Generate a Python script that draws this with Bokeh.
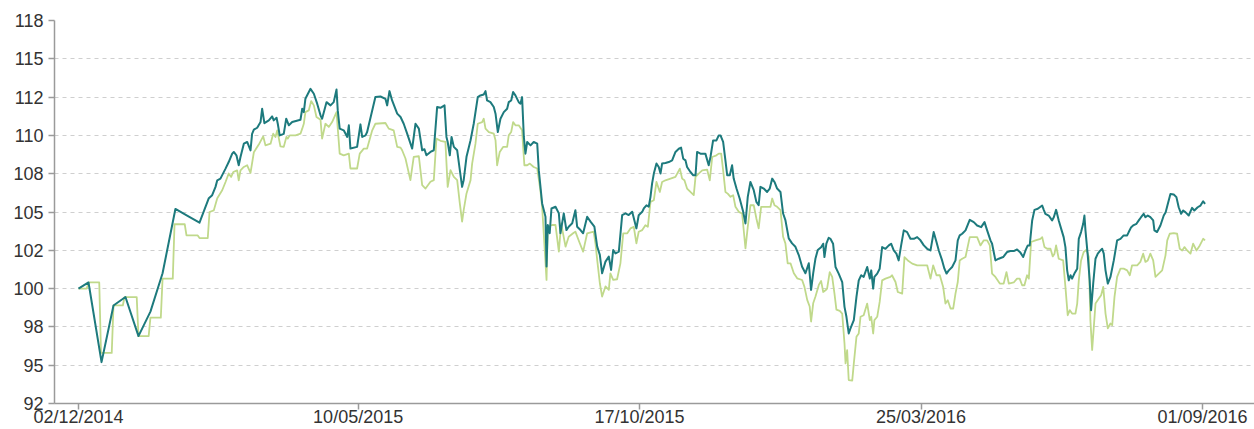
import pandas as pd
from bokeh.plotting import figure
from bokeh.models import FixedTicker, DatetimeTickFormatter, Range1d
from bokeh.embed import file_html
from bokeh.resources import INLINE

start_date = "2014-12-02"

teal_days = [0, 5.7, 13.1, 19.9, 26.7, 34.1, 40.9, 47.8, 55.1, 62.0, 68.8, 74.1, 76.0, 77.9, 78.9, 80.7,
             83.6, 85.4, 87.4, 88.3, 89.8, 91.1, 92.1, 94.0, 95.9, 97.8, 98.7, 99.7, 101.6, 103.5, 104.4,
             105.7, 108.2, 110.1, 111.0, 112.6, 113.3, 114.4, 116.7, 118.1, 119.6, 121.5, 126.2, 127.2,
             128.1, 129.0, 131.9, 133.8, 135.7, 137.6, 138.5, 141.0, 143.3, 145.1, 146.7, 147.4, 148.5,
             150.8, 152.8, 153.7, 154.6, 158.4, 160.3, 161.3, 163.2, 164.1, 168.8, 171.7, 174.5, 175.5,
             176.8, 178.3, 181.2, 183.1, 184.9, 186.9, 189.7, 191.6, 193.5, 195.4, 196.7, 197.8, 200.1,
             202.0, 203.9, 205.8, 208.1, 209.2, 209.9, 211.1, 212.1, 213.4, 215.3, 216.8, 218.1, 219.0,
             220.6, 222.9, 224.7, 227.0, 228.5, 230.4, 231.4, 232.3, 234.2, 236.1, 237.1, 238.4, 239.9,
             241.8, 243.7, 244.6, 246.0, 247.1, 248.4, 250.3, 251.3, 252.2, 253.2, 254.1, 255.1, 257.0,
             258.8, 260.8, 261.7, 263.6, 265.5, 266.1, 266.8, 267.9, 268.9, 271.2, 273.1, 274.0, 275.9,
             277.4, 278.7, 280.7, 282.5, 283.5, 285.4, 286.9, 289.2, 291.1, 293.3, 294.9, 296.4, 297.7,
             299.6, 301.5, 302.8, 304.0, 305.3, 307.2, 309.1, 311.0, 312.8, 314.8, 317.2, 318.5, 320.5,
             321.4, 322.9, 324.2, 325.2, 326.1, 327.1, 328.6, 329.9, 330.9, 331.8, 333.7, 335.6, 337.5,
             339.4, 341.3, 342.6, 343.8, 345.1, 346.0, 347.9, 349.5, 350.8, 351.7, 353.6, 356.4, 358.3,
             359.3, 360.8, 362.7, 364.0, 365.0, 366.5, 367.8, 368.8, 370.3, 371.6, 372.5, 374.1, 375.9,
             377.9, 379.2, 380.5, 382.0, 383.9, 385.4, 386.7, 387.7, 389.6, 391.5, 393.0, 394.4, 395.7,
             397.2, 399.1, 400.6, 401.9, 403.8, 405.7, 407.6, 409.5, 411.4, 413.3, 415.2, 416.5, 417.7,
             419.0, 420.3, 422.2, 423.4, 424.1, 425.2, 426.5, 427.5, 429.0, 430.4, 432.2, 434.2, 435.5,
             436.6, 437.9, 438.9, 440.8, 442.3, 443.6, 445.0, 446.4, 448.4, 449.9, 450.7, 451.8, 452.5,
             454.1, 455.5, 456.9, 458.8, 460.7, 462.0, 463.5, 465.0, 466.3, 467.7, 469.2, 471.1, 473.0,
             474.9, 476.8, 478.7, 480.6, 482.5, 484.4, 486.2, 487.8, 489.1, 491.0, 492.3, 493.5, 494.8,
             496.7, 498.6, 499.9, 501.0, 502.4, 504.3, 506.7, 509.0, 510.9, 513.2, 515.1, 516.6, 518.5,
             519.4, 521.3, 523.2, 525.7, 528.0, 529.8, 531.7, 533.6, 535.5, 537.1, 538.4, 539.7, 540.8,
             542.2, 543.5, 545.4, 547.9, 548.8, 549.7, 551.6, 553.5, 554.5, 555.8, 557.3, 558.7, 560.1,
             561.1, 562.1, 563.0, 564.0, 564.9, 566.2, 567.8, 568.7, 570.0, 571.2, 571.9, 572.5, 573.8,
             574.9, 575.7, 576.9, 578.2, 579.5, 581.0, 582.0, 582.9, 583.9, 585.2, 586.7, 588.6, 590.5,
             592.4, 594.2, 596.2, 597.1, 598.5, 599.6, 601.5, 602.8, 604.1, 605.6, 606.6, 607.9, 609.4,
             611.0, 611.7, 613.2, 615.1, 617.0, 618.1, 619.3, 620.8, 622.7, 624.2, 625.5, 626.9, 628.0,
             629.3, 631.2, 633.1, 634.4, 636.3, 637.9, 639.4, 640.5]

teal_values = [100.0, 100.4, 95.2, 98.9, 99.45, 96.9, 98.5, 101.0, 105.2, 104.75, 104.3, 105.9, 106.1,
               106.64, 107.07, 107.18, 107.83, 108.26, 108.81, 108.92, 108.7, 108.05, 108.59, 109.46,
               109.57, 109.02, 110.1, 110.37, 110.5, 110.87, 111.74, 110.8, 110.98, 111.24, 110.98,
               111.15, 110.76, 110.0, 110.1, 111.09, 110.66, 110.87, 111.02, 111.74, 111.52, 112.39,
               113.04, 112.72, 112.07, 111.31, 111.09, 112.17, 111.96, 112.17, 113.0, 111.63, 110.44,
               110.33, 109.9, 110.66, 109.14, 109.25, 110.72, 109.9, 110.0, 110.22, 112.5, 112.54,
               112.39, 111.96, 112.89, 112.28, 111.42, 111.2, 110.76, 110.1, 109.14, 110.76, 110.44,
               109.03, 109.1, 108.7, 108.92, 109.03, 111.85, 111.8, 111.96, 109.9, 109.57, 108.7,
               109.9, 109.25, 109.03, 107.73, 106.64, 107.08, 108.6, 109.68, 110.76, 112.5, 112.61,
               112.67, 112.89, 112.28, 112.17, 111.85, 111.42, 110.22, 111.09, 111.52, 111.74, 112.17,
               112.28, 112.83, 112.61, 112.17, 112.07, 112.5, 109.9, 108.81, 109.57, 109.35, 109.57,
               109.46, 107.73, 105.56, 104.69, 101.44, 104.15, 103.61, 105.23, 105.34, 104.91, 103.61,
               104.91, 103.82, 104.04, 104.26, 105.12, 104.04, 103.82, 103.61, 104.69, 104.37, 104.04,
               102.74, 102.2, 101.0, 101.76, 102.09, 101.22, 102.52, 102.3, 102.41, 104.8, 104.91,
               104.8, 105.02, 103.93, 104.79, 105.01, 105.23, 105.44, 105.34, 105.99, 106.85, 107.51,
               108.16, 107.94, 107.51, 108.16, 108.2, 108.26, 108.37, 108.92, 109.13, 109.2, 108.48,
               108.37, 107.94, 107.61, 107.4, 107.4, 108.92, 108.81, 108.81, 108.05, 108.59, 109.67,
               109.67, 110.0, 110.0, 109.57, 108.37, 107.4, 107.4, 108.05, 107.18, 106.53, 105.88,
               105.01, 104.25, 105.99, 106.96, 106.42, 105.66, 105.44, 106.64, 106.53, 106.31, 106.53,
               107.18, 106.96, 106.53, 106.31, 104.9, 104.47, 103.28, 102.95, 102.73, 102.19, 101.43,
               101.0, 101.65, 99.91, 101.0, 101.97, 102.52, 102.7, 102.93, 102.06, 102.93, 103.32,
               103.25, 102.93, 101.41, 100.98, 100.43, 98.81, 98.16, 97.07, 97.4, 97.94, 99.46,
               100.54, 100.87, 100.76, 101.41, 100.65, 101.19, 100.0, 100.76, 100.98, 101.3, 102.71,
               102.6, 102.82, 102.93, 102.49, 102.28, 101.84, 102.82, 103.8, 103.69, 103.25, 103.25,
               103.36, 103.15, 102.82, 102.6, 102.49, 103.69, 103.04, 102.49, 101.84, 101.3, 100.98,
               101.19, 101.41, 101.84, 103.15, 103.47, 103.58, 103.8, 104.49, 104.34, 104.12, 104.01,
               104.34, 103.8, 103.15, 102.93, 101.84, 101.95, 102.06, 102.39, 102.45, 102.45, 102.55,
               102.35, 102.06, 102.49, 102.82, 102.82, 104.45, 105.14, 105.21, 105.42, 105.14, 104.88,
               104.77, 104.45, 104.66, 105.14, 104.45, 103.9, 103.36, 102.71, 101.19, 100.54, 100.87,
               100.65, 100.98, 101.3, 103.25, 103.69, 104.23, 104.77, 103.8, 102.17, 100.54, 98.59,
               100.33, 101.95, 102.28, 102.49, 102.6, 102.28, 101.19, 100.33, 100.76, 101.84, 103.15,
               103.25, 103.47, 103.47, 103.69, 104.01, 104.12, 104.23, 104.45, 104.66, 104.88, 104.66,
               104.77, 104.66, 104.45, 103.8, 103.69, 104.12, 104.77, 104.99, 105.53, 106.18, 106.14,
               105.97, 105.31, 104.88, 105.1, 104.99, 104.77, 105.27, 105.1, 105.31, 105.42, 105.7,
               105.53]

green_days = [0, 4.7, 5.7, 11.8, 12.8, 18.9, 19.9, 25.2, 26.2, 33.1, 34.1, 39.9, 40.9, 46.8, 47.8, 53.6,
              54.6, 60.4, 61.4, 67.8, 68.8, 73.5, 74.5, 76.9, 78.9, 81.7, 83.6,
              85.4, 86.8, 88.0, 90.2, 91.1, 92.1, 94.0, 95.9, 97.8, 99.7, 102.5, 105.0, 106.3, 109.2,
              110.7, 112.0, 113.0, 114.8, 116.7, 118.2, 119.0, 120.1, 123.4, 126.2, 127.2, 128.1,
              129.0, 130.9, 132.3, 133.8, 135.3, 137.6, 138.5, 140.4, 142.3, 144.2, 146.7, 148.5,
              150.8, 153.7, 154.6, 158.4, 159.9, 162.2, 164.1, 167.0, 168.8, 174.5, 176.4, 179.2,
              181.2, 183.1, 184.0, 185.9, 188.7, 190.6, 193.5, 195.4, 197.3, 200.1, 202.0, 203.5,
              205.8, 208.6, 209.9, 211.5, 213.4, 215.3, 216.8, 218.1, 219.0, 220.6, 222.9, 223.8,
              225.7, 227.0, 229.5, 230.4, 231.4, 233.3, 236.1, 237.1, 238.0, 239.5, 241.4, 243.7,
              244.6, 246.0, 247.1, 248.4, 250.3, 252.2, 253.5, 255.1, 256.6, 258.8, 260.8, 262.6,
              263.6, 266.1, 266.8, 269.3, 271.2, 273.1, 274.4, 276.9, 278.7, 281.2, 282.5, 285.0,
              286.9, 289.2, 292.9, 293.9, 294.9, 296.4, 297.7, 299.6, 301.5, 302.4, 304.0, 306.2,
              308.1, 309.7, 312.0, 313.8, 315.7, 317.2, 318.5, 320.5, 322.3, 323.7, 325.2, 327.1,
              328.6, 330.5, 331.8, 333.7, 336.6, 339.4, 341.9, 343.2, 344.5, 346.0, 347.9, 349.8,
              350.8, 352.6, 354.6, 357.4, 358.9, 360.3, 362.7, 364.0, 365.4, 366.5, 367.8, 369.1,
              370.7, 372.2, 373.5, 375.4, 377.3, 379.2, 380.5, 382.0, 383.9, 385.4, 386.7, 388.1,
              391.5, 393.4, 394.4, 395.7, 397.2, 399.1, 400.6, 401.9, 403.2, 404.8, 406.7, 408.6,
              411.4, 412.7, 414.3, 415.7, 416.5, 417.7, 419.0, 420.9, 422.2, 423.4, 424.7, 425.6,
              427.1, 428.5, 429.8, 430.9, 432.8, 434.2, 435.5, 436.1, 437.0, 437.9, 439.9, 440.8,
              442.3, 443.6, 444.6, 446.4, 448.4, 449.9, 450.7, 451.8, 452.5, 454.1, 455.5, 456.9,
              458.8, 461.6, 462.5, 464.5, 465.8, 468.3, 469.6, 471.5, 474.0, 476.8, 479.6, 482.5,
              484.4, 485.9, 487.8, 489.7, 491.6, 492.9, 494.2, 495.8, 497.3, 498.6, 499.9, 501.0,
              502.4, 504.3, 506.7, 510.9, 512.8, 514.7, 516.6, 518.1, 519.4, 521.3, 523.8, 526.0,
              527.6, 528.9, 531.7, 533.6, 535.1, 536.5, 537.8, 539.3, 540.3, 541.6, 544.1, 546.9,
              547.9, 549.2, 550.7, 552.6, 553.9, 554.9, 555.8, 557.3, 559.8, 561.1, 562.4, 563.6,
              564.9, 566.8, 567.8, 568.7, 570.0, 571.5, 573.1, 574.4, 575.3, 576.3, 578.2, 580.1,
              581.4, 582.6, 583.9, 585.2, 586.7, 587.7, 589.0, 590.5, 592.4, 594.2, 596.2, 597.7,
              599.0, 601.9, 603.7, 605.3, 606.6, 607.9, 609.4, 611.0, 612.3, 614.2, 616.1, 618.0,
              619.0, 620.4, 622.7, 624.6, 626.1, 627.5, 628.8, 630.3, 632.2, 633.7, 635.6, 637.5,
              639.4, 640.5]

green_values = [100.0, 100.0, 100.4, 100.4, 95.8, 95.8, 98.9, 98.9, 99.45, 99.45, 96.9, 96.9, 98.1, 98.1,
                100.65, 100.65, 104.2, 104.2, 103.47, 103.47, 103.3, 103.3, 105.0, 105.1, 105.9,
                106.42, 106.96, 107.51, 107.29, 107.61, 107.72, 107.07, 107.72, 107.94, 108.05, 107.55,
                108.9, 109.4, 109.94, 109.35, 109.46, 110.11, 109.9, 110.33, 109.29, 109.25, 109.9,
                109.79, 110.0, 110.0, 110.11, 110.44, 110.76, 111.52, 111.63, 112.24, 111.96, 111.2,
                111.02, 109.79, 110.76, 110.55, 110.87, 111.52, 108.81, 108.7, 108.81, 107.84, 107.84,
                108.81, 109.14, 109.14, 110.33, 110.76, 110.81, 110.44, 110.33, 109.25, 109.2, 109.03,
                108.49, 107.08, 108.6, 108.64, 106.75, 106.53, 106.97, 107.08, 109.79, 109.65, 109.57,
                106.64, 107.73, 107.29, 107.08, 105.56, 104.37, 105.12, 106.21, 107.08, 108.16,
                109.46, 110.76, 110.87, 111.09, 110.44, 110.22, 110.11, 109.68, 108.05, 108.92,
                109.25, 109.25, 110.0, 110.22, 110.87, 110.66, 110.66, 110.33, 108.05, 108.05, 108.16,
                107.94, 107.84, 106.43, 105.34, 100.57, 104.04, 104.15, 104.15, 102.41, 104.26,
                102.74, 103.39, 103.61, 103.72, 102.96, 102.41, 103.61, 103.72, 102.96, 101.87,
                100.35, 99.48, 100.14, 99.92, 101.0, 100.57, 100.61, 101.65, 103.61, 103.61, 103.93,
                104.03, 102.95, 103.71, 103.82, 104.14, 104.03, 105.66, 105.77, 106.96, 106.31,
                106.96, 107.07, 107.18, 107.29, 107.83, 107.18, 107.07, 106.53, 106.31, 106.1,
                107.29, 107.51, 107.72, 107.77, 107.07, 108.59, 108.7, 108.81, 108.81, 107.72,
                106.31, 106.2, 105.99, 106.1, 105.34, 105.01, 104.9, 102.62, 104.03, 105.44, 105.44,
                104.58, 103.93, 105.34, 105.34, 105.34, 105.88, 105.44, 105.34, 105.12, 103.38,
                102.95, 101.65, 101.65, 101.0, 100.67, 100.56, 100.13, 99.26, 98.83, 97.85, 99.04,
                99.48, 100.24, 100.5, 99.78, 99.89, 100.0, 101.08, 100.76, 99.67, 98.63, 98.55,
                98.37, 96.42, 95.12, 95.99, 94.03, 93.99, 95.12, 96.85, 97.07, 98.16, 98.26, 99.02,
                97.94, 98.16, 97.07, 97.94, 98.16, 99.13, 100.54, 100.65, 100.76, 100.87, 100.43,
                99.78, 99.67, 102.06, 101.84, 101.63, 101.52, 101.52, 101.52, 100.65, 101.52,
                100.87, 100.87, 100.11, 99.02, 99.24, 98.7, 98.7, 99.67, 100.43, 101.84, 101.95,
                102.06, 103.36, 103.36, 102.82, 103.15, 103.15, 102.82, 100.98, 100.76, 100.33,
                100.33, 101.08, 100.33, 100.4, 100.65, 100.65, 100.22, 100.22, 100.87, 100.65,
                103.04, 103.15, 103.25, 103.36, 102.71, 102.6, 102.6, 102.1, 102.28, 102.82, 101.95,
                101.84, 100.11, 98.26, 98.59, 98.37, 98.37, 99.02, 100.54, 101.84, 102.39, 102.54,
                102.06, 97.94, 95.99, 99.02, 99.35, 99.57, 100.11, 98.37, 97.4, 97.72, 97.61, 99.46,
                100.76, 101.3, 101.3, 101.19, 100.87, 101.52, 101.52, 101.74, 102.28, 101.74,
                101.84, 102.28, 101.84, 100.76, 100.98, 101.19, 102.17, 103.15, 103.58, 103.62,
                103.58, 102.6, 102.49, 102.71, 102.49, 102.28, 102.93, 102.49, 102.82, 103.25,
                103.15]

x_tick_dates = ["2014-12-02", "2015-05-10", "2015-10-17", "2016-03-25", "2016-09-01"]
y_tick_values = [92.5, 95.0, 97.5, 100.0, 102.5, 105.0, 107.5, 110.0, 112.5, 115.0, 117.5]
y_tick_labels = ["92", "95", "98", "100", "102", "105", "108", "110", "112", "115", "118"]

TEAL = "#1d7a7d"
GREEN = "#c0d98b"
FONT = "Liberation Sans"

t0 = pd.Timestamp(start_date)
teal_x = t0 + pd.to_timedelta(teal_days, unit="D")
green_x = t0 + pd.to_timedelta(green_days, unit="D")

x_start = (t0 - pd.Timedelta(days=13.64)).to_pydatetime()
x_end = (t0 + pd.Timedelta(days=668.6)).to_pydatetime()

p = figure(width=1254, height=429, x_axis_type="datetime",
           x_range=Range1d(x_start, x_end), y_range=Range1d(92.5, 117.5),
           output_backend="svg", toolbar_location=None,
           min_border_left=54, min_border_right=0, min_border_top=20, min_border_bottom=10)

p.line(green_x, green_values, line_color=GREEN, line_width=1.8, line_join="round")
p.line(teal_x, teal_values, line_color=TEAL, line_width=2, line_join="round")

p.outline_line_color = None
p.background_fill_color = "white"
p.border_fill_color = "white"

p.xgrid.visible = False
p.ygrid.ticker = FixedTicker(ticks=y_tick_values[1:-1])
p.ygrid.grid_line_color = "#cfcfcf"
p.ygrid.grid_line_dash = "4 4"
p.ygrid.grid_line_width = 1

p.yaxis.ticker = FixedTicker(ticks=y_tick_values)
p.yaxis.major_label_overrides = {v: l for v, l in zip(y_tick_values, y_tick_labels)}

p.xaxis.ticker = FixedTicker(ticks=[pd.Timestamp(d).value / 1e6 for d in x_tick_dates])
fmt = "%d/%m/%Y"
p.xaxis.formatter = DatetimeTickFormatter(milliseconds=fmt, seconds=fmt, minsec=fmt, minutes=fmt,
                                          hourmin=fmt, hours=fmt, days=fmt, months=fmt, years=fmt)

for ax in (p.xaxis, p.yaxis):
    ax.axis_line_color = "#9a9a9a"
    ax.axis_line_width = 1.5
    ax.major_tick_line_color = "#9a9a9a"
    ax.major_tick_line_width = 1.5
    ax.major_tick_out = 6
    ax.major_tick_in = 0
    ax.minor_tick_line_color = None
    ax.major_label_text_font = FONT
    ax.major_label_text_font_size = "18px"
    ax.major_label_text_color = "#333333"

p.xaxis.major_label_standoff = -3
p.yaxis.major_label_standoff = 5

open("out.html", "w").write(file_html(p, INLINE))
